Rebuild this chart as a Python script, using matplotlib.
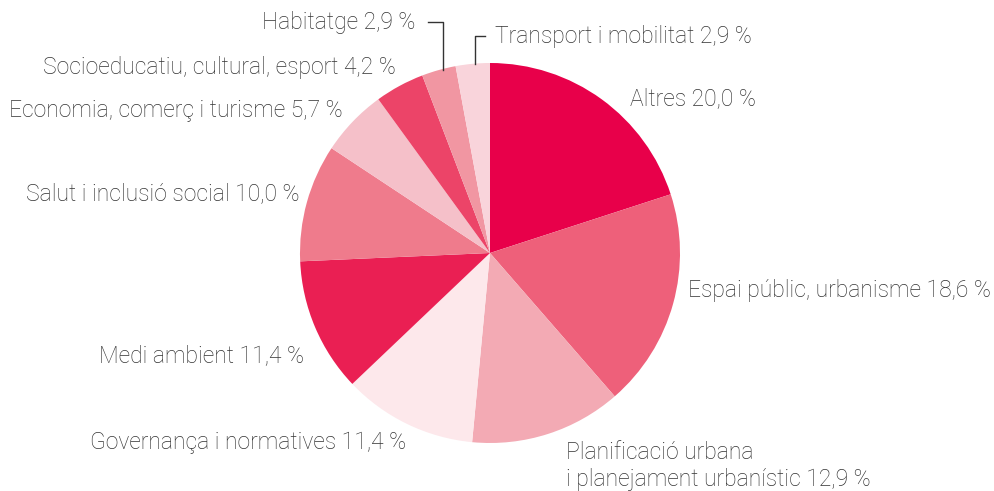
import numpy as np
import matplotlib
matplotlib.use('Agg')
import matplotlib.pyplot as plt

W, H = 995, 491

labels = ['Altres', 'Espai públic, urbanisme', 'Planificació urbana\ni planejament urbanístic',
          'Governança i normatives', 'Medi ambient', 'Salut i inclusió social',
          'Economia, comerç i turisme', 'Socioeducatiu, cultural, esport',
          'Habitatge', 'Transport i mobilitat']
values = [20.0, 18.6, 12.9, 11.4, 11.4, 10.0, 5.7, 4.2, 2.9, 2.9]
colors = ['#E8004A', '#EE607A', '#F3AAB4', '#FDE8EB', '#EA1F53',
          '#EF7B8C', '#F5C0C9', '#EC4468', '#F196A2', '#F9D4DB']

# label anchor positions in pixels (x, y from top, alignment)
label_pos = [(630, 99, 'left'), (688, 290, 'left'), (566, 466, 'left'),
             (406, 443, 'right'), (304, 356, 'right'), (300, 194, 'right'),
             (343, 110, 'right'), (396, 67, 'right'), (415, 22, 'right'),
             (495, 36, 'left')]

cx, cy, r = 490, 253, 190
txt_color = '#333333'

fig = plt.figure(figsize=(W / 100, H / 100), dpi=100)
ax = fig.add_axes([0, 0, 1, 1])
ax.pie(values, colors=colors, startangle=90, counterclock=False,
       center=(cx, H - cy), radius=r, wedgeprops=dict(linewidth=0))
ax.set_xlim(0, W)
ax.set_ylim(0, H)
ax.set_aspect('equal')
ax.axis('off')

for lab, v, (x, y, ha) in zip(labels, values, label_pos):
    ax.text(x, H - y, f"{lab} {v:.1f} %".replace('.', ','), ha=ha, va='center',
            fontsize=16.5, color=txt_color, family='Roboto', weight='light',
            linespacing=1.2)

# leader lines for the two small slices at the top
cum = np.cumsum([0] + values[:-1])
for i, (x_bend, x_end) in [(8, (443, 428)), (9, (475, 485))]:
    mid = (cum[i] + values[i] / 2) / 100 * 2 * np.pi
    ex = cx + r * np.sin(mid)
    ey = cy - r * np.cos(mid)
    ty = label_pos[i][1]
    ax.plot([x_bend, x_bend, x_end], [H - ey, H - ty, H - ty],
            color=txt_color, lw=1)

fig.savefig('out.png', dpi=100)
